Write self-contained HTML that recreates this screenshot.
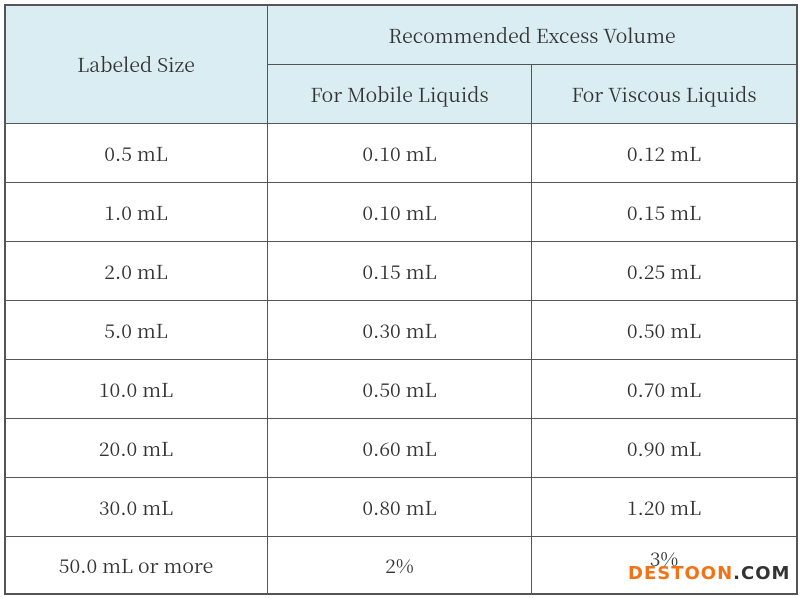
<!DOCTYPE html>
<html><head><meta charset="utf-8"><style>
body{margin:0;width:800px;height:598px;background:#fff;position:relative;overflow:hidden;font-family:"Noto Serif CJK SC","Liberation Serif",serif;color:#333;font-size:19.4px}
.c{position:absolute;display:flex;align-items:center;justify-content:center}
.h{position:absolute;background:#555}
.bg{position:absolute;background:#daedf3}
.wm{position:absolute;left:628px;top:563px;font-family:"DejaVu Sans","Liberation Sans",sans-serif;font-weight:bold;font-size:18px;letter-spacing:1px;color:#f47216}
.wm span{color:#333}
</style></head><body>
<div class="bg" style="left:5px;top:5px;width:792px;height:118px"></div>
<div class="h" style="left:4px;top:4px;width:794px;height:2px"></div>
<div class="h" style="left:268px;top:64px;width:530px;height:1px"></div>
<div class="h" style="left:4px;top:123px;width:794px;height:1px"></div>
<div class="h" style="left:4px;top:182px;width:794px;height:1px"></div>
<div class="h" style="left:4px;top:241px;width:794px;height:1px"></div>
<div class="h" style="left:4px;top:300px;width:794px;height:1px"></div>
<div class="h" style="left:4px;top:359px;width:794px;height:1px"></div>
<div class="h" style="left:4px;top:418px;width:794px;height:1px"></div>
<div class="h" style="left:4px;top:477px;width:794px;height:1px"></div>
<div class="h" style="left:4px;top:536px;width:794px;height:1px"></div>
<div class="h" style="left:4px;top:593px;width:794px;height:2px"></div>
<div class="h" style="left:4px;top:4px;width:2px;height:591px"></div>
<div class="h" style="left:267px;top:4px;width:1px;height:591px"></div>
<div class="h" style="left:531px;top:64px;width:1px;height:531px"></div>
<div class="h" style="left:796px;top:4px;width:2px;height:591px"></div>

<div class="c" style="left:5px;top:5px;width:262px;height:118px">Labeled Size</div>
<div class="c" style="left:268px;top:5px;width:528px;height:59px">Recommended Excess Volume</div>
<div class="c" style="left:268px;top:65px;width:263px;height:58px">For Mobile Liquids</div>
<div class="c" style="left:532px;top:65px;width:264px;height:58px">For Viscous Liquids</div>

<div class="c" style="left:5px;top:124px;width:262px;height:58px">0.5 mL</div><div class="c" style="left:268px;top:124px;width:263px;height:58px">0.10 mL</div><div class="c" style="left:532px;top:124px;width:264px;height:58px">0.12 mL</div>
<div class="c" style="left:5px;top:183px;width:262px;height:58px">1.0 mL</div><div class="c" style="left:268px;top:183px;width:263px;height:58px">0.10 mL</div><div class="c" style="left:532px;top:183px;width:264px;height:58px">0.15 mL</div>
<div class="c" style="left:5px;top:242px;width:262px;height:58px">2.0 mL</div><div class="c" style="left:268px;top:242px;width:263px;height:58px">0.15 mL</div><div class="c" style="left:532px;top:242px;width:264px;height:58px">0.25 mL</div>
<div class="c" style="left:5px;top:301px;width:262px;height:58px">5.0 mL</div><div class="c" style="left:268px;top:301px;width:263px;height:58px">0.30 mL</div><div class="c" style="left:532px;top:301px;width:264px;height:58px">0.50 mL</div>
<div class="c" style="left:5px;top:360px;width:262px;height:58px">10.0 mL</div><div class="c" style="left:268px;top:360px;width:263px;height:58px">0.50 mL</div><div class="c" style="left:532px;top:360px;width:264px;height:58px">0.70 mL</div>
<div class="c" style="left:5px;top:419px;width:262px;height:58px">20.0 mL</div><div class="c" style="left:268px;top:419px;width:263px;height:58px">0.60 mL</div><div class="c" style="left:532px;top:419px;width:264px;height:58px">0.90 mL</div>
<div class="c" style="left:5px;top:478px;width:262px;height:58px">30.0 mL</div><div class="c" style="left:268px;top:478px;width:263px;height:58px">0.80 mL</div><div class="c" style="left:532px;top:478px;width:264px;height:58px">1.20 mL</div>
<div class="c" style="left:5px;top:537px;width:262px;height:56px">50.0 mL or more</div><div class="c" style="left:268px;top:537px;width:263px;height:56px">2%</div><div class="c" style="left:532px;top:530px;width:264px;height:56px">3%</div>
<div class="wm">DESTOON<span>.COM</span></div>
</body></html>
